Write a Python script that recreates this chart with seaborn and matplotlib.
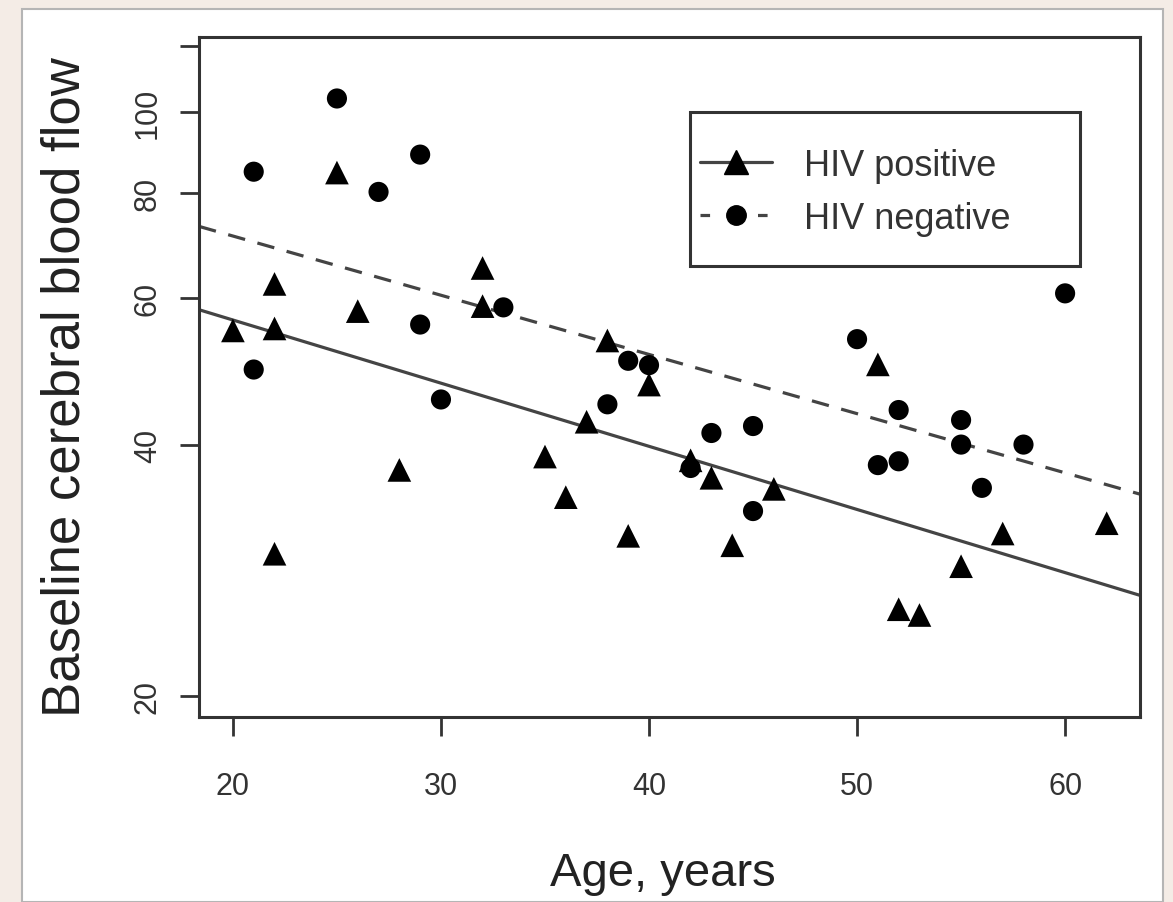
import numpy as np
import pandas as pd
import seaborn as sns
import matplotlib.pyplot as plt
from matplotlib.lines import Line2D
from matplotlib.patches import Rectangle

# points (age in years, baseline CBF)
pos_age = [20, 22, 22, 22, 25, 26, 28, 32, 32, 35, 36, 37, 38, 39, 40,
           42, 43, 44, 46, 51, 52, 53, 55, 57, 62]
pos_cbf = [54.8, 62.3, 55.1, 29.6, 84.7, 57.8, 37.3, 65.1, 58.6, 38.7, 34.6, 42.6, 53.3, 31.1, 47.2,
           38.3, 36.5, 30.3, 35.4, 49.9, 25.4, 25.0, 28.6, 31.3, 32.2]

neg_age = [21, 25, 27, 29, 29, 21, 30, 33, 39, 40, 38, 43, 45, 42, 45,
           50, 51, 52, 52, 55, 55, 56, 58, 60]
neg_cbf = [84.9, 103.9, 80.3, 89.0, 55.7, 49.2, 45.3, 58.4, 50.4, 49.8, 44.7, 41.3, 42.1, 37.5, 33.3,
           53.5, 37.8, 38.2, 44.0, 42.8, 40.0, 35.5, 40.0, 60.7]

# fitted lines (log-linear), value at age 20 and at age 60
fit_ages = [20, 60]
pos_fit = [56.4, 28.1]
neg_fit = [71.1, 37.0]

groups = ['HIV positive', 'HIV negative']

df = pd.DataFrame({
    'age': pos_age + neg_age,
    'cbf': pos_cbf + neg_cbf,
    'group': [groups[0]] * len(pos_age) + [groups[1]] * len(neg_age),
})

xlim = (18.37, 63.6)
grid = np.linspace(xlim[0], xlim[1], 50)


def fit_line(vals):
    b = (np.log(vals[1]) - np.log(vals[0])) / (fit_ages[1] - fit_ages[0])
    return np.exp(np.log(vals[0]) + b * (grid - fit_ages[0]))


lines = pd.DataFrame({
    'age': np.concatenate([grid, grid]),
    'cbf': np.concatenate([fit_line(pos_fit), fit_line(neg_fit)]),
    'group': [groups[0]] * len(grid) + [groups[1]] * len(grid),
})

sns.set_style('white')
plt.rcParams['font.family'] = ['Liberation Sans', 'DejaVu Sans']

fig = plt.figure(figsize=(11.73, 9.03), dpi=100, facecolor='#f4ece6')
fig.patches.append(Rectangle((22 / 1173, 0), (1163 - 22) / 1173, (903 - 10) / 903,
                             transform=fig.transFigure, facecolor='white',
                             edgecolor='#b5b5b5', lw=1.5, zorder=-5))
ax = fig.add_axes([199 / 1173, 1 - 718 / 903, (1140 - 199) / 1173, (718 - 38) / 903])
ax.set_facecolor('white')

line_col = '#444444'
sns.lineplot(data=lines, x='age', y='cbf', hue='group', style='group',
             palette={groups[0]: line_col, groups[1]: line_col},
             dashes={groups[0]: '', groups[1]: (5.5, 4.0)},
             linewidth=2.3, legend=False, ax=ax, zorder=2)

sns.scatterplot(data=df[df.group == groups[0]], x='age', y='cbf', marker='^',
                color='black', s=290, edgecolor='none', legend=False, ax=ax, zorder=3)
sns.scatterplot(data=df[df.group == groups[1]], x='age', y='cbf', marker='o',
                color='black', s=210, edgecolor='none', legend=False, ax=ax, zorder=3)

ax.set_yscale('log')
ax.set_xlim(*xlim)
ax.set_ylim(18.87, 123.1)
ax.set_xticks([20, 30, 40, 50, 60])
ax.set_xticklabels(['20', '30', '40', '50', '60'])
ax.set_yticks([20, 40, 60, 80, 100, 120])
ax.set_yticklabels(['20', '40', '60', '80', '100', ''], rotation=90, va='center')
ax.minorticks_off()
ax.tick_params(axis='both', which='major', length=14, width=2, color='#333333',
               labelsize=22, labelcolor='#333333', left=True, bottom=True)
ax.tick_params(axis='x', pad=25)
ax.tick_params(axis='y', pad=12)

for sp in ax.spines.values():
    sp.set_visible(True)
    sp.set_color('#333333')
    sp.set_linewidth(2.2)

ax.set_xlabel('Age, years', fontsize=34, color='#222222')
ax.set_ylabel('Baseline cerebral blood flow', fontsize=38, color='#222222')
ax.xaxis.set_label_coords(0.493, -0.197)
ax.yaxis.set_label_coords(-0.115, 0.487)

# legend box
ax.add_patch(Rectangle((0.522, 0.663), 0.414, 0.227, transform=ax.transAxes,
                       facecolor='white', edgecolor='#333333', lw=2.2, zorder=4))
handles = [
    Line2D([], [], color=line_col, lw=2.3, marker='^', markersize=17,
           markerfacecolor='black', markeredgecolor='black'),
    Line2D([], [], color=line_col, lw=2.3, ls=(0, (3.0, 6.0)), marker='o', markersize=14,
           markerfacecolor='black', markeredgecolor='black'),
]
leg = ax.legend(handles, groups, loc='center left', bbox_to_anchor=(0.532, 0.772),
                borderaxespad=0, borderpad=0, frameon=False, fontsize=26,
                handlelength=2.0, handletextpad=0.9, labelspacing=0.5)
leg.set_zorder(5)
for t in leg.get_texts():
    t.set_color('#333333')

fig.savefig('out.png', dpi=100, facecolor=fig.get_facecolor())
